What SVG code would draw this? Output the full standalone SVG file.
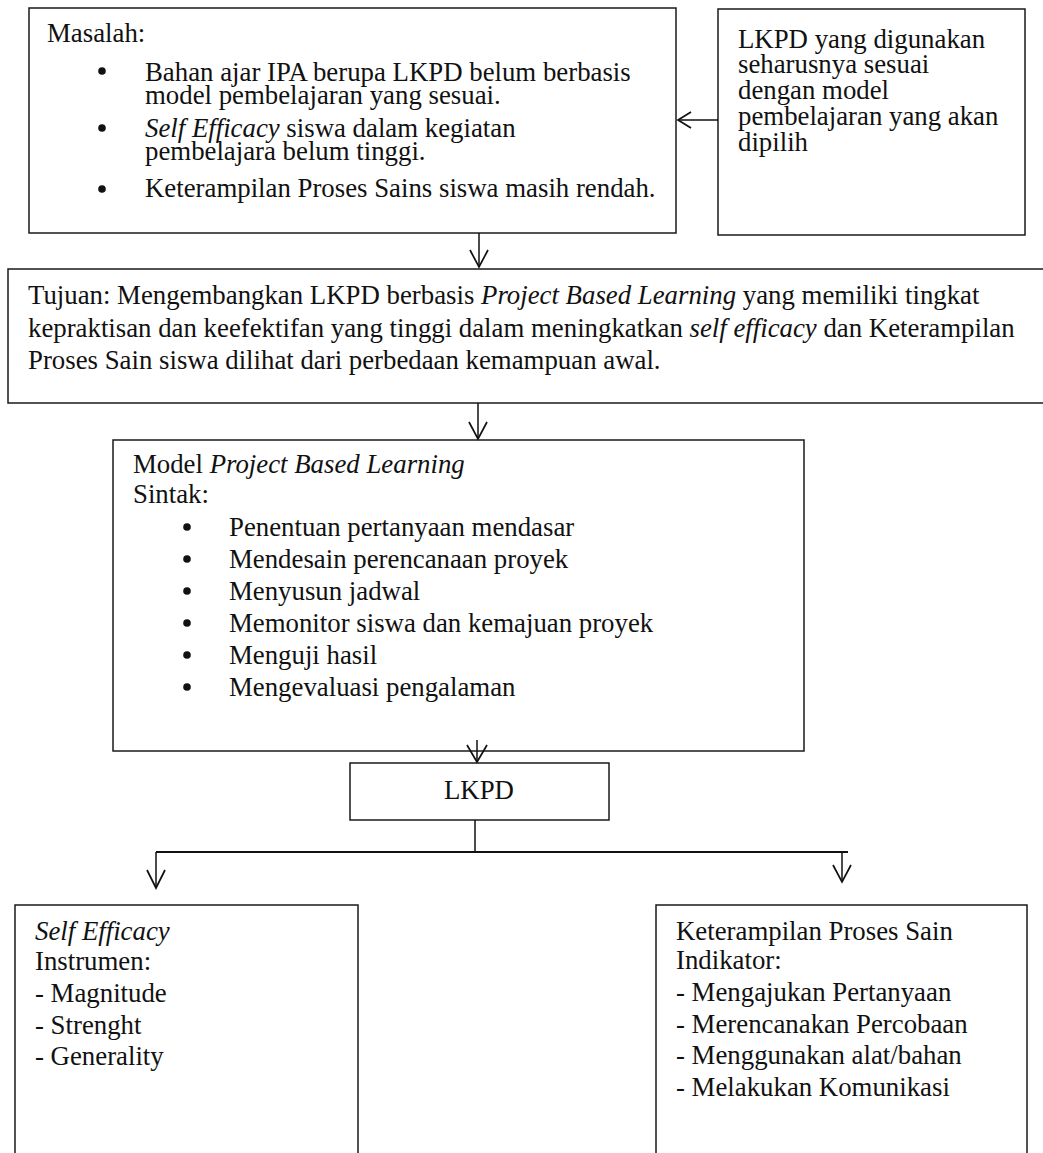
<svg xmlns="http://www.w3.org/2000/svg" width="1043" height="1153" viewBox="0 0 1043 1153">
<style>
  .box { fill: #ffffff; stroke: #1a1a1a; stroke-width: 1.5; }
  .t { font-family: "Liberation Serif", "Times New Roman", serif; font-size: 26.8px; fill: #111111; }
  .i { font-style: italic; }
  .c { stroke: #111111; stroke-width: 1.5; fill: none; }
  .ah { stroke: #111111; stroke-width: 1.7; fill: none; stroke-linejoin: miter; }
  .bul { fill: #111111; }
</style>
<rect x="0" y="0" width="1043" height="1153" fill="#ffffff"/>

<g id="masalah">
  <rect class="box" x="29" y="8" width="647" height="225"/>
  <text class="t" x="47" y="42">Masalah:</text>
  <circle class="bul" cx="102" cy="71" r="3.8"/>
  <text class="t" x="145" y="81">Bahan ajar IPA berupa LKPD belum berbasis</text>
  <text class="t" x="145" y="104">model pembelajaran yang sesuai.</text>
  <circle class="bul" cx="102" cy="128" r="3.8"/>
  <text class="t" x="145" y="137"><tspan class="i">Self Efficacy</tspan> siswa  dalam kegiatan</text>
  <text class="t" x="145" y="160">pembelajara belum tinggi.</text>
  <circle class="bul" cx="102" cy="189" r="3.8"/>
  <text class="t" x="145" y="197">Keterampilan Proses Sains siswa masih rendah.</text>
</g>

<g id="lkpd-sesuai">
  <rect class="box" x="718" y="9" width="307" height="226"/>
  <text class="t" x="738" y="48">LKPD yang digunakan</text>
  <text class="t" x="738" y="73">seharusnya sesuai</text>
  <text class="t" x="738" y="99">dengan model</text>
  <text class="t" x="738" y="125">pembelajaran yang akan</text>
  <text class="t" x="738" y="151">dipilih</text>
</g>

<g id="tujuan">
  <rect class="box" x="8" y="269" width="1045" height="134"/>
  <text class="t" x="28" y="304">Tujuan: Mengembangkan LKPD berbasis <tspan class="i">Project Based Learning</tspan> yang memiliki tingkat</text>
  <text class="t" x="28" y="337">kepraktisan dan keefektifan yang tinggi dalam meningkatkan <tspan class="i">self efficacy</tspan> dan Keterampilan</text>
  <text class="t" x="28" y="369">Proses Sain siswa dilihat dari perbedaan kemampuan awal.</text>
</g>

<g id="model-pjbl">
  <rect class="box" x="113" y="440" width="691" height="311"/>
  <text class="t" x="133" y="473">Model <tspan class="i">Project Based Learning</tspan></text>
  <text class="t" x="133" y="503">Sintak:</text>
  <circle class="bul" cx="187" cy="527" r="3.8"/>
  <text class="t" x="229" y="536">Penentuan pertanyaan mendasar</text>
  <circle class="bul" cx="187" cy="559" r="3.8"/>
  <text class="t" x="229" y="568">Mendesain perencanaan proyek</text>
  <circle class="bul" cx="187" cy="591" r="3.8"/>
  <text class="t" x="229" y="600">Menyusun jadwal</text>
  <circle class="bul" cx="187" cy="623" r="3.8"/>
  <text class="t" x="229" y="632">Memonitor siswa dan kemajuan proyek</text>
  <circle class="bul" cx="187" cy="655" r="3.8"/>
  <text class="t" x="229" y="664">Menguji hasil</text>
  <circle class="bul" cx="187" cy="687" r="3.8"/>
  <text class="t" x="229" y="696">Mengevaluasi pengalaman</text>
</g>

<g id="lkpd">
  <rect class="box" x="350" y="763" width="259" height="57"/>
  <text class="t" x="479" y="799" text-anchor="middle">LKPD</text>
</g>

<g id="self-efficacy">
  <rect class="box" x="15" y="905" width="343" height="270"/>
  <text class="t i" x="35" y="940">Self Efficacy</text>
  <text class="t" x="35" y="970">Instrumen:</text>
  <text class="t" x="35" y="1002">- Magnitude</text>
  <text class="t" x="35" y="1034">- Strenght</text>
  <text class="t" x="35" y="1065">- Generality</text>
</g>

<g id="kps">
  <rect class="box" x="656" y="905" width="371" height="270"/>
  <text class="t" x="676" y="940">Keterampilan Proses Sain</text>
  <text class="t" x="676" y="969">Indikator:</text>
  <text class="t" x="676" y="1001">- Mengajukan Pertanyaan</text>
  <text class="t" x="676" y="1033">- Merencanakan Percobaan</text>
  <text class="t" x="676" y="1064">- Menggunakan alat/bahan</text>
  <text class="t" x="676" y="1096">- Melakukan Komunikasi</text>
</g>

<g id="connectors">
  <line class="c" x1="718" y1="120" x2="678" y2="120"/>
  <polyline class="ah" points="691,112 678,120 691,128"/>

  <line class="c" x1="479" y1="233" x2="479" y2="267"/>
  <polyline class="ah" points="470,250 479,267 488,250"/>

  <line class="c" x1="478" y1="403" x2="478" y2="439"/>
  <polyline class="ah" points="469,422 478,439 487,422"/>

  <line class="c" x1="477" y1="740" x2="477" y2="762"/>
  <polyline class="ah" points="467,745 477,762 487,745"/>

  <line class="c" x1="475" y1="820" x2="475" y2="852"/>
  <line class="c" x1="156" y1="852" x2="848" y2="852" style="stroke-width:2"/>
  <line class="c" x1="156" y1="852" x2="156" y2="888"/>
  <polyline class="ah" points="147,870 156,888 165,870"/>
  <line class="c" x1="842" y1="852" x2="842" y2="882"/>
  <polyline class="ah" points="833,865 842,882 851,865"/>
</g>
</svg>
